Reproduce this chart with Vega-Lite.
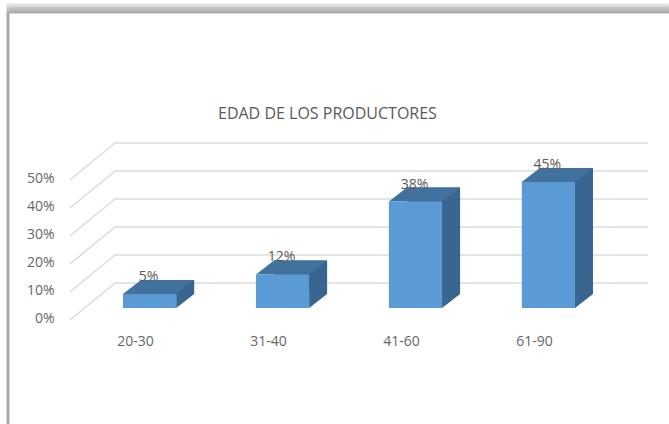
{
"$schema":"https://vega.github.io/schema/vega-lite/v6.json",
"autosize":{"type":"none"},
"padding":{"left":8,"top":5,"right":0,"bottom":0},
"width":680,"height":430,
"background":"#ffffff",
"view":{"fill":{"gradient":"linear","x1":0,"y1":0,"x2":0,"y2":1,"stops":[{"offset":0,"color":"#d6d6d6"},{"offset":0.019,"color":"#a6a6a6"},{"offset":0.0205,"color":"#ffffff"},{"offset":1,"color":"#ffffff"}]},
"stroke":{"gradient":"linear","x1":0,"y1":0,"x2":0,"y2":1,"stops":[{"offset":0,"color":"#e4e4e4"},{"offset":0.02,"color":"#a8a8a8"},{"offset":1,"color":"#a8a8a8"}]},"strokeWidth":3},
"title":{"text":"EDAD DE LOS PRODUCTORES","anchor":"start","frame":"group","dx":210,"dy":121,"font":"Open Sans","fontSize":16,"fontWeight":"normal","color":"#595959"},
"data":{"values":[{"edad":"20-30","pct":0.05},{"edad":"31-40","pct":0.12},{"edad":"41-60","pct":0.38},{"edad":"61-90","pct":0.45}]},
"encoding":{
"x":{"field":"edad","type":"nominal","sort":null,"scale":{"type":"band","range":[115,567],"paddingInner":0.6,"paddingOuter":0},
"axis":{"orient":"bottom","title":null,"domain":false,"ticks":false,"grid":false,"labelAngle":0,"labelOffset":-14,"labelPadding":0,"offset":-94,"labelBaseline":"middle","labelFont":"Open Sans","labelFontSize":14,"labelColor":"#666666"}},
"y":{"field":"pct","type":"quantitative","scale":{"domain":[0,0.5],"range":[303,163]},
"axis":{"orient":"left","title":null,"domain":false,"ticks":false,"grid":false,"format":".0%","values":[0,0.1,0.2,0.3,0.4,0.5],"labelOffset":10,"labelPadding":0,"offset":-46,"labelFont":"Open Sans","labelFontSize":14,"labelColor":"#666666"}}
},
"layer":[
{"data":{"values":[{"tick":0},{"tick":0.1},{"tick":0.2},{"tick":0.3},{"tick":0.4},{"tick":0.5}]},
"mark":{"type":"point","shape":"M0,12 L45,-25 L578,-25","size":4,"filled":false,"stroke":"#dcdcdc","strokeWidth":1.6,"opacity":1},
"encoding":{"x":{"value":62},"y":{"field":"tick","type":"quantitative"}}},
{"mark":{"type":"bar","fill":"#386690","xOffset":18,"x2Offset":18,"yOffset":-14,"y2Offset":-14}},
{"mark":{"type":"point","shape":"M26.6,0 L26.6,-14 L44.6,-14 Z","size":4,"filled":true,"fill":"#386690","strokeWidth":0,"opacity":1},"encoding":{"y":{"datum":0}}},
{"mark":{"type":"point","shape":"M-26.6,0 L26.6,0 L44.6,-14 L-8.6,-14 Z","size":4,"filled":true,"fill":"#41719c","strokeWidth":0,"opacity":1}},
{"mark":{"type":"bar","fill":"#5b9bd5"}},
{"mark":{"type":"text","dy":-17,"dx":-1,"font":"Open Sans","fontSize":14,"fill":"#595959"},"encoding":{"text":{"field":"pct","type":"quantitative","format":".0%"}}}
]
}
